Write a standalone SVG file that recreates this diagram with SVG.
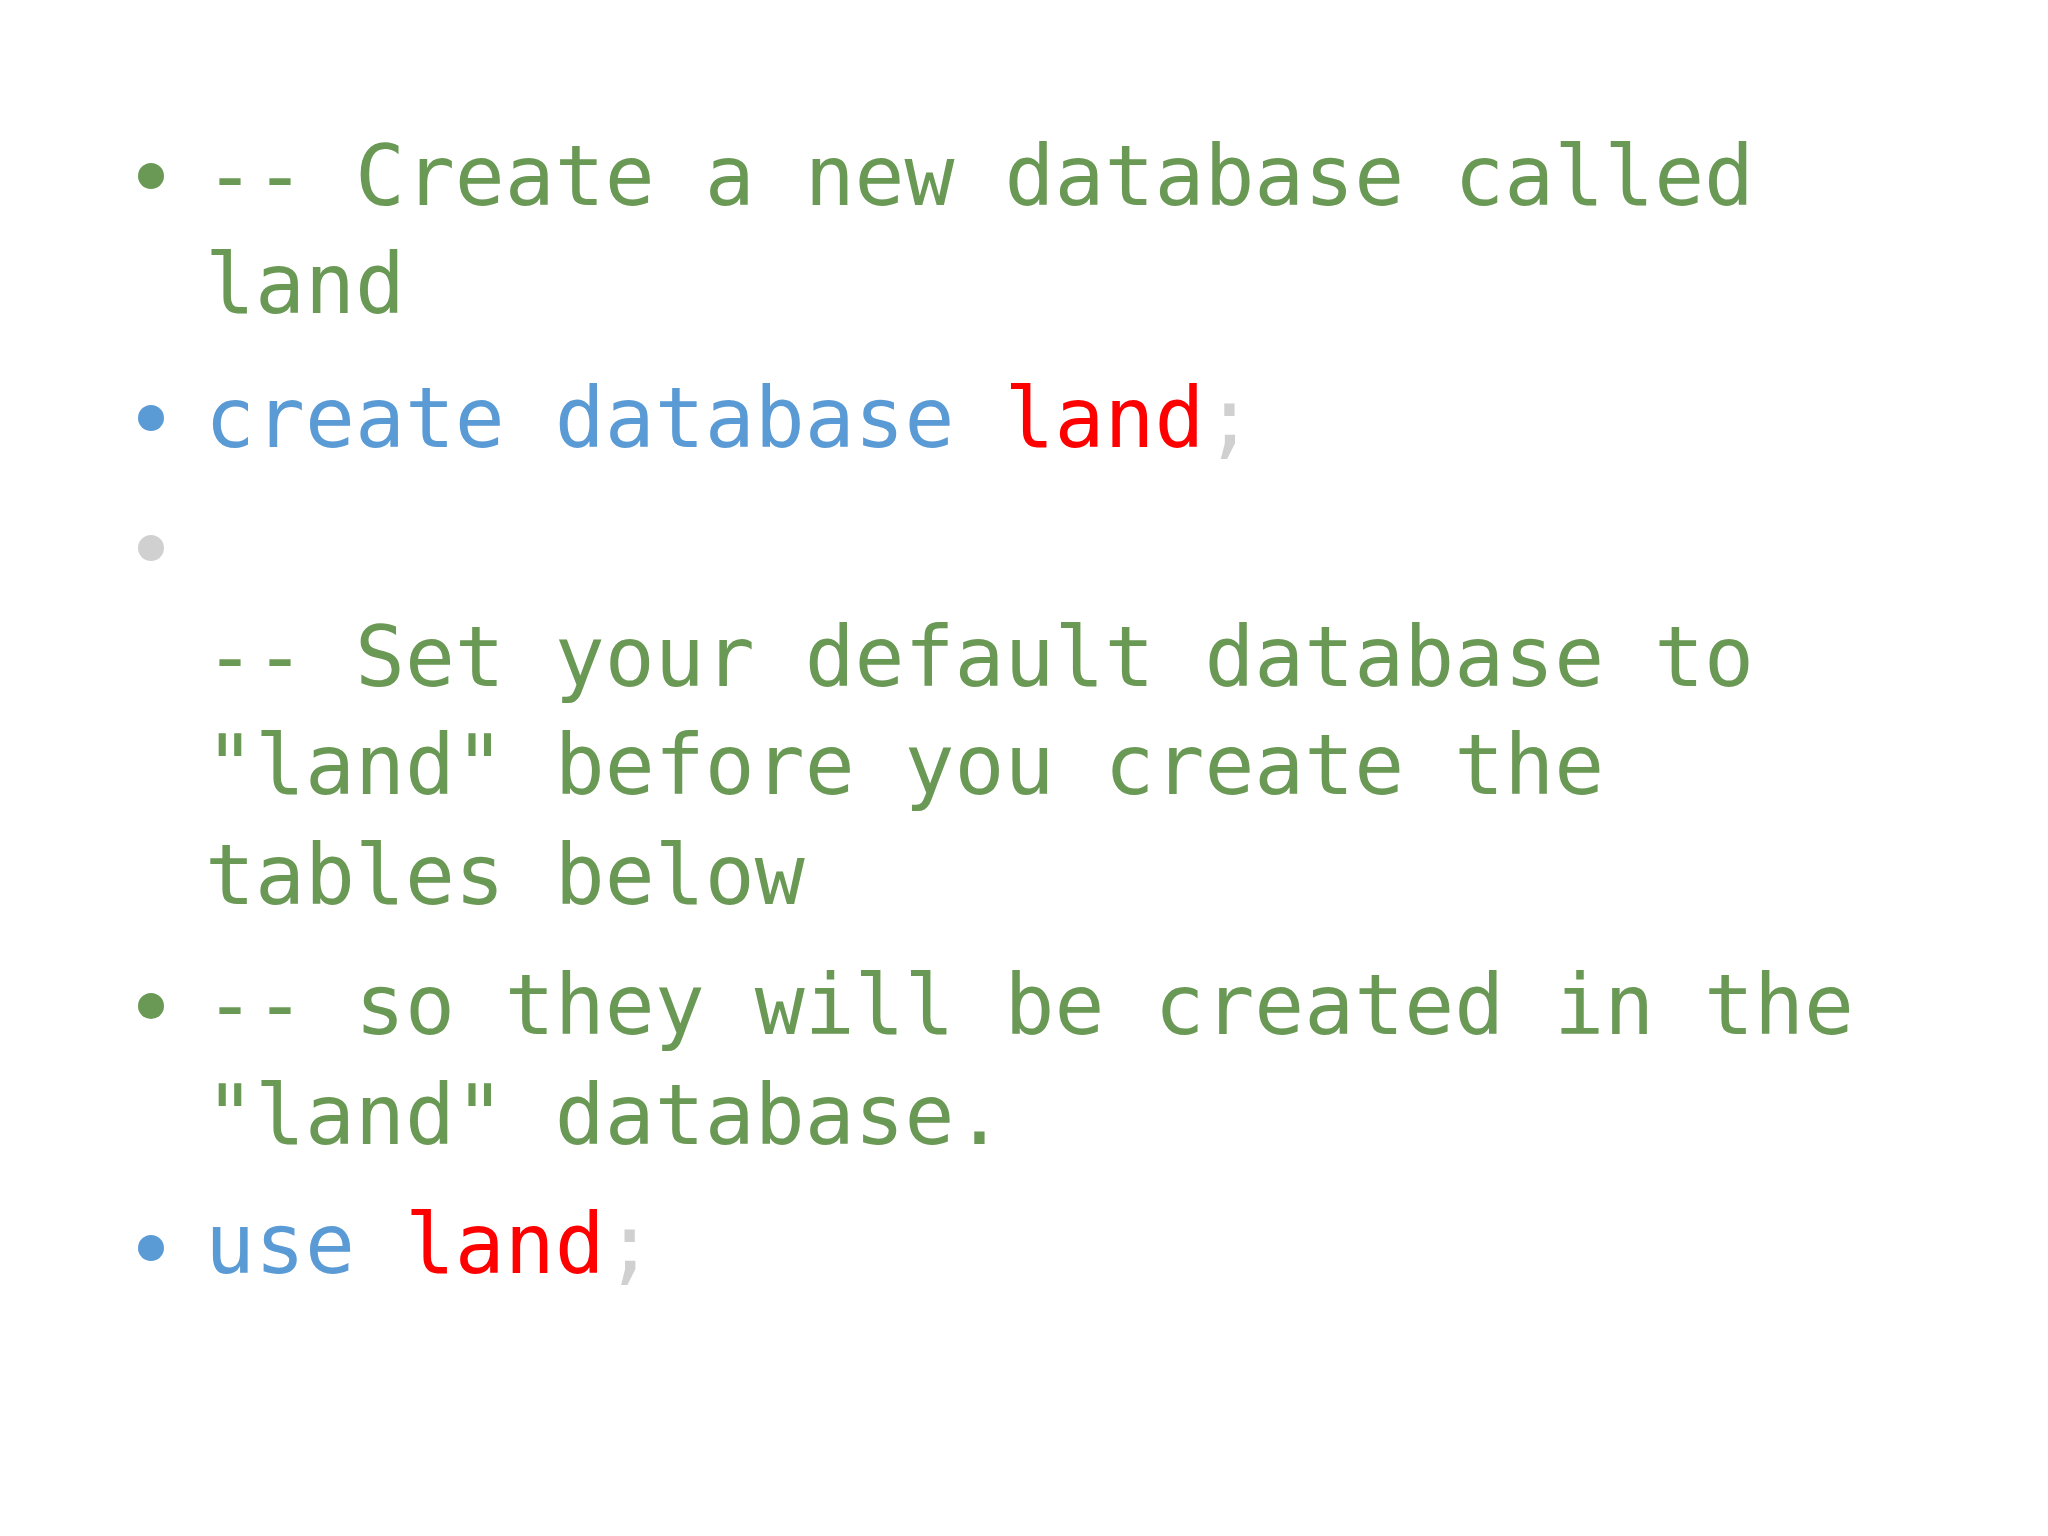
<svg xmlns="http://www.w3.org/2000/svg" width="2048" height="1536" viewBox="0 0 2048 1536">
<style>
text{font-family:"DejaVu Sans Mono","Liberation Mono",monospace;font-size:83px;white-space:pre}
.g{fill:#6A9955}.b{fill:#5B9BD5}.r{fill:#FF0000}.s{fill:#D0D0D0}
</style>
<rect width="2048" height="1536" fill="#fff"/>
<g id="bullets">
<circle cx="151" cy="176" r="13" class="g"/>
<circle cx="151" cy="418" r="13" class="b"/>
<circle cx="151" cy="548" r="13" class="s"/>
<circle cx="151" cy="1006" r="13" class="g"/>
<circle cx="151" cy="1248" r="13" class="b"/>
</g>
<g id="lines">
<text x="205" y="205" class="g">-- Create a new database called</text>
<text x="205" y="313" class="g">land</text>
<text x="205" y="447"><tspan class="b">create database </tspan><tspan class="r">land</tspan><tspan class="s">;</tspan></text>
<text x="205" y="686" class="g">-- Set your default database to</text>
<text x="205" y="794" class="g">"land" before you create the</text>
<text x="205" y="904" class="g">tables below</text>
<text x="205" y="1034" class="g">-- so they will be created in the</text>
<text x="205" y="1144" class="g">"land" database.</text>
<text x="205" y="1273"><tspan class="b">use </tspan><tspan class="r">land</tspan><tspan class="s">;</tspan></text>
</g>
</svg>
